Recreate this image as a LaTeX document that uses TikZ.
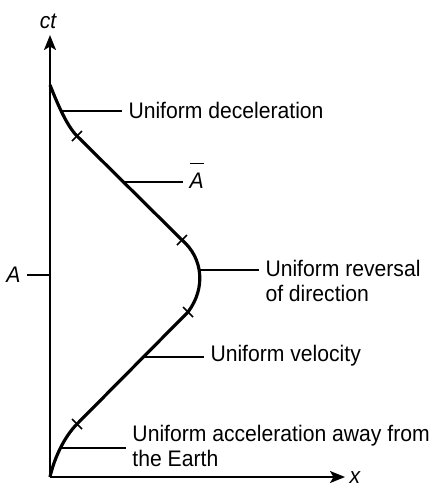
\documentclass[tikz,border=0pt]{standalone}
\usepackage{fontspec}
\setmainfont{Liberation Sans}[FakeStretch=0.94]
\usetikzlibrary{arrows.meta}

\begin{document}
\begin{tikzpicture}[x=0.02cm, y=-0.02cm,
    axisline/.style={line width=1.1pt, -{Stealth[length=3mm, width=2.4mm, inset=0.7mm]}},
    worldline/.style={line width=1.8pt, line join=round},
    crossmark/.style={line width=0.9pt},
    leader/.style={line width=0.8pt},
    lbl/.style={font=\fontsize{12.8}{14}\selectfont, inner xsep=3.5pt, inner ysep=0pt, align=left},
    var/.style={font=\fontsize{12.8}{14}\selectfont\itshape, inner xsep=3.5pt, inner ysep=0pt}
  ]
  \useasboundingbox (0,0) rectangle (438,488);

  % axes
  \coordinate (o) at (50,477);
  \coordinate (ytip) at (50,35);
  \coordinate (xtip) at (345,477);
  \draw[axisline] (o) -- (ytip);
  \draw[axisline] (o) -- (xtip);
  \node[var] (ct) at (48,21) {ct};
  \node[var] (xlab) at (355,478) {x};
  \coordinate (ya) at (50,275);
  \node[var, anchor=east] (alab) at (27,275) {A};
  \draw[leader] (alab.east) -- (ya);

  % world line of the traveller
  \coordinate (top) at (50,85);
  \coordinate (t1) at (77,136);
  \coordinate (t2) at (182,240);
  \coordinate (t3) at (188,312);
  \coordinate (t4) at (77,424);
  \draw[worldline] (top) .. controls (56,100) and (66,125) .. (t1) -- (t2)
     .. controls (203,258) and (206,288) .. (t3) -- (t4)
     .. controls (66,435) and (55,455) .. (o);
  \foreach \t in {t1,t2}
    \draw[crossmark] (\t) ++(-5,5) -- ++(10,-10);
  \foreach \t in {t3,t4}
    \draw[crossmark] (\t) ++(-5,-5) -- ++(10,10);

  % labels and leaders
  \coordinate (c1) at (62,111);
  \coordinate (c2) at (124,182);
  \coordinate (c3) at (199,270);
  \coordinate (c4) at (142,357);
  \coordinate (c5) at (62,448);
  \node[lbl, anchor=west] (dec) at (122,110) {Uniform deceleration};
  \node[var, anchor=base west] (abar) at (183,188) {$\overline{\rule{0pt}{12.5pt}\mbox{\itshape A}}$};
  \node[lbl, anchor=north west] (rev) at (259,260) {Uniform reversal\\of direction};
  \node[lbl, anchor=west] (vel) at (204,356) {Uniform velocity};
  \node[lbl, anchor=west] (acc) at (126,446) {Uniform acceleration away from\\the Earth};
  \draw[leader] (c1) -- (dec.west |- c1);
  \draw[leader] (c2) -- (abar.west |- c2);
  \draw[leader] (c3) -- (rev.west |- c3);
  \draw[leader] (c4) -- (vel.west |- c4);
  \draw[leader] (c5) -- (acc.west |- c5);
\end{tikzpicture}
\end{document}
